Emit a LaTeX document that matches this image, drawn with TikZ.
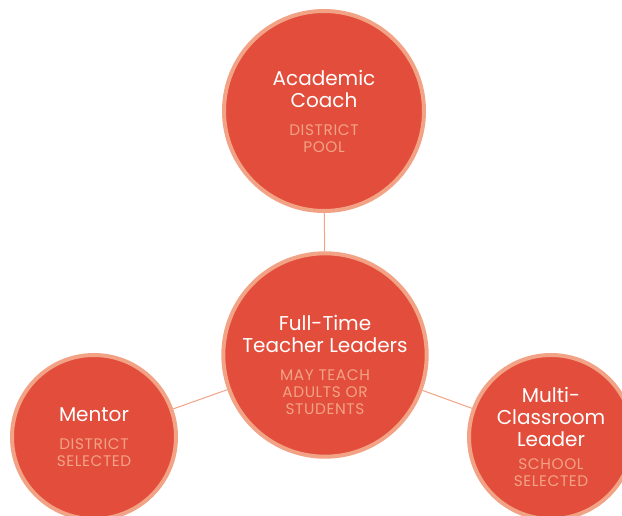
\documentclass[tikz,border=0pt]{standalone}
\usepackage{fontspec}
\setmainfont{Poppins}
\newfontfamily\subfont[LetterSpace=4]{Poppins}
\usepackage{xcolor}
\definecolor{coral}{HTML}{E34E3C}
\definecolor{salmon}{HTML}{F2A285}
\newcommand{\ttl}[1]{\fontsize{15}{16.5}\selectfont #1}
\newcommand{\sub}[1]{\subfont\fontsize{11.5}{12}\selectfont\textcolor{salmon}{#1}}

\begin{document}
\begin{tikzpicture}
  [x=0.75pt,y=-0.75pt,every node/.style={circle,fill=coral,draw=salmon,line width=3pt,
   text=white,align=center,inner sep=0pt,font=\fontsize{15}{16.5}\selectfont}]
  \useasboundingbox (0,0) rectangle (622,515);
  \node[minimum size=150pt] (coach) at (324,111) {\ttl{Academic}\\\ttl{Coach}\\[4.5pt]\sub{DISTRICT}\\[-3.75pt]\sub{POOL}};
  \node[minimum size=150pt] (ftl) at (325,355) {\rule{0pt}{26pt}\ttl{Full-Time}\\\ttl{Teacher Leaders}\\[4.5pt]\sub{MAY TEACH}\\[-3.75pt]\sub{ADULTS OR}\\[-3.75pt]\sub{STUDENTS}};
  \node[minimum size=123pt] (mentor) at (94,437) {\ttl{Mentor}\\[4.5pt]\sub{DISTRICT}\\[-3.75pt]\sub{SELECTED}};
  \node[minimum size=123pt] (mcl) at (551,437) {\ttl{Multi-}\\\ttl{Classroom}\\\ttl{Leader}\\[1pt]\sub{SCHOOL}\\[-3.75pt]\sub{SELECTED}};

  \foreach \from/\to in {coach/ftl,ftl/mentor,ftl/mcl}
    \draw[salmon,line width=0.75pt] (\from) -- (\to);
\end{tikzpicture}
\end{document}
